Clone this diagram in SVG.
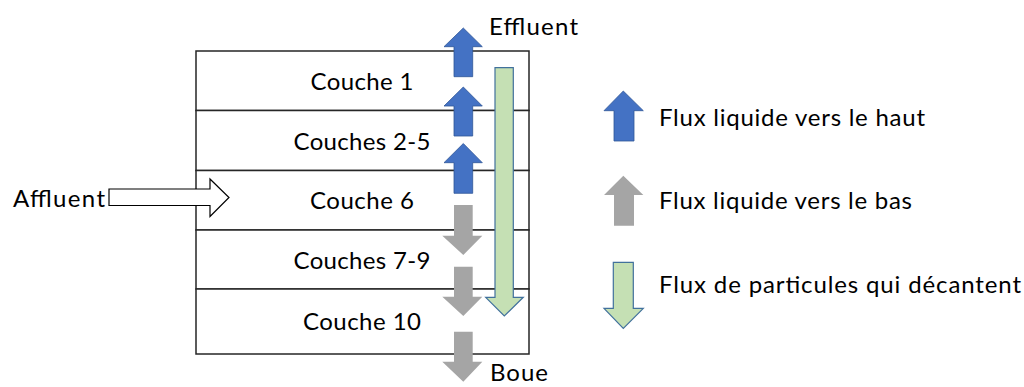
<svg xmlns="http://www.w3.org/2000/svg" width="1024" height="387" viewBox="0 0 1024 387">
<style>
text{font-family:Lato,"Open Sans","Liberation Sans",sans-serif;font-size:24px;fill:#000}
.c{text-anchor:middle}
.layer{fill:#fff;stroke:#262626;stroke-width:1.5}
.up{fill:#4472C4;stroke:#2F5597;stroke-width:0.8}
.down{fill:#A5A5A5;stroke:none}
.settle{fill:#C5E0B4;stroke:#41719C;stroke-width:1.2}
.inflow{fill:#fff;stroke:#000;stroke-width:1.2}
</style>
<rect width="1024" height="387" fill="#fff"/>
<g id="layers">
<g id="layer1"><rect class="layer" x="196" y="51" width="333" height="59.5"/><text class="c" x="362" y="90" textLength="103">Couche 1</text></g>
<g id="layer2-5"><rect class="layer" x="196" y="110.5" width="333" height="60"/><text class="c" x="362" y="150" textLength="137">Couches 2-5</text></g>
<g id="layer6"><rect class="layer" x="196" y="170.5" width="333" height="59.5"/><text class="c" x="362" y="208.5" textLength="104">Couche 6</text></g>
<g id="layer7-9"><rect class="layer" x="196" y="230" width="333" height="59"/><text class="c" x="362" y="268.5" textLength="137">Couches 7-9</text></g>
<g id="layer10"><rect class="layer" x="196" y="289" width="333" height="65"/><text class="c" x="362" y="330" textLength="118">Couche 10</text></g>
</g>
<g id="connectors">
<polygon class="up" points="463.3,28 482.3,46.7 472.7,46.7 472.7,76.7 454,76.7 454,46.7 444,46.7"/>
<polygon class="up" points="463.3,87 482.3,106 472.7,106 472.7,136 454,136 454,106 444,106"/>
<polygon class="up" points="463.3,143.5 482.3,162.7 472.7,162.7 472.7,193.3 454,193.3 454,162.7 444,162.7"/>
<polygon class="down" points="454,205 472.7,205 472.7,235.7 482.3,235.7 463.3,255 442.3,235.7 454,235.7"/>
<polygon class="down" points="454,266.7 472.7,266.7 472.7,296.7 482.3,296.7 463.3,316 442.3,296.7 454,296.7"/>
<polygon class="down" points="454,331.7 472.7,331.7 472.7,361.7 482.3,361.7 463.3,381.7 442.3,361.7 454,361.7"/>
<polygon class="settle" points="495,67.7 513.3,67.7 513.3,297.3 523.3,297.3 504.3,316 485.7,297.3 495,297.3"/>
<polygon class="inflow" points="109,189 210,189 210,179 229,197.5 210,216.5 210,205.5 109,205.5"/>
</g>
<g id="labels">
<text x="13" y="207" textLength="92">Affluent</text>
<text x="489" y="34.5" textLength="89">Effluent</text>
<text x="490" y="381" textLength="58">Boue</text>
</g>
<g id="legend">
<g id="legend-up"><polygon class="up" points="623.3,91 643.3,110.7 634,110.7 634,141 614,141 614,110.7 604,110.7"/><text x="659" y="126" textLength="266">Flux liquide vers le haut</text></g>
<g id="legend-down"><polygon class="down" points="623.3,175.7 643.3,195 634,195 634,225.7 614,225.7 614,195 604,195"/><text x="659" y="209" textLength="253">Flux liquide vers le bas</text></g>
<g id="legend-settle"><polygon class="settle" points="613.3,262.3 633.3,262.3 633.3,308.3 643.3,308.3 623.3,328.3 604,308.3 613.3,308.3"/><text x="659" y="292.5" textLength="362">Flux de particules qui décantent</text></g>
</g>
</svg>
